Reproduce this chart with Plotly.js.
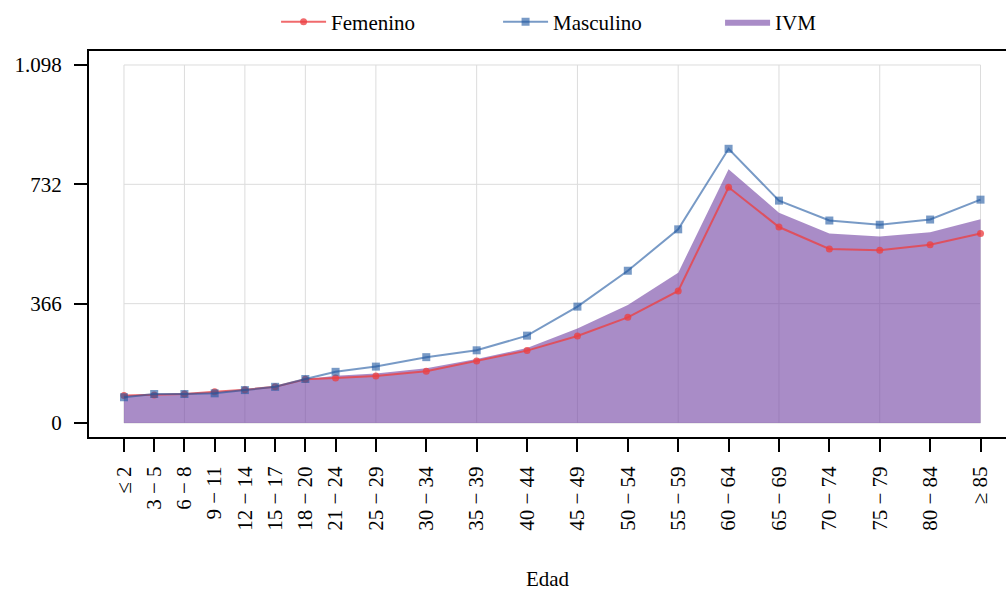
<!DOCTYPE html>
<html>
<head>
<meta charset="utf-8">
<script src="https://cdn.plot.ly/plotly-3.0.1.min.js"></script>
<style>html,body{margin:0;padding:0;background:#fff;}#chart{width:1006px;height:591px;}</style>
</head>
<body>
<div id="chart"></div>
<script>
// Age groups (label) and their lower bound in years (numeric axis position)
const gruposEdad = ["≤ 2","3 − 5","6 − 8","9 − 11","12 − 14","15 − 17","18 − 20","21 − 24","25 − 29","30 − 34","35 − 39","40 − 44","45 − 49","50 − 54","55 − 59","60 − 64","65 − 69","70 − 74","75 − 79","80 − 84","≥ 85"];
const edadInicio = [0,3,6,9,12,15,18,21,25,30,35,40,45,50,55,60,65,70,75,80,85];
const femenino  = [84,86,89,96,102,111,134,138,144,159,190,222,267,324,405,723,601,534,530,547,581];
const masculino = [79,89,89,91,101,111,135,157,173,202,223,268,357,467,594,841,682,621,608,624,685];
const ivm       = [84,87,89,94,101,111,134,145,152,168,196,230,290,362,461,778,645,581,572,585,625];
const yTicks = [0,366,732,1098];
const yTickText = ["0","366","732","1.098"];

const FONT = "Liberation Serif, Times New Roman, serif";

const traceFem = {x: edadInicio, y: femenino, name: "Femenino", type: "scatter", mode: "lines+markers",
   legendrank: 1,
   line: {color: "rgba(236,64,66,0.78)", width: 2},
   marker: {symbol: "circle", size: 7, color: "rgba(236,64,66,0.78)"}};
const traceMas = {x: edadInicio, y: masculino, name: "Masculino", type: "scatter", mode: "lines+markers",
   legendrank: 2,
   line: {color: "rgba(30,86,160,0.6)", width: 2},
   marker: {symbol: "square", size: 8, color: "rgba(30,86,160,0.6)"}};
const traceIvm = {x: edadInicio, y: ivm, name: "IVM", type: "scatter", mode: "lines", fill: "tozeroy",
   legendrank: 3,
   fillcolor: "rgba(120,75,168,0.64)", line: {width: 0, color: "rgba(0,0,0,0)"}};

// grid shapes from the tick arrays
const shapes = [];
edadInicio.forEach((v, i) => {
  if (i % 2 === 0) shapes.push({type: "line", xref: "x", yref: "y", x0: v, x1: v,
    y0: yTicks[0], y1: yTicks[yTicks.length-1], line: {color: "#dcdcdc", width: 1}, layer: "below"});
});
yTicks.forEach(v => {
  shapes.push({type: "line", xref: "x", yref: "y", x0: edadInicio[0], x1: edadInicio[edadInicio.length-1],
    y0: v, y1: v, line: {color: "#dcdcdc", width: 1}, layer: "below"});
});

const layout = {
  width: 1006, height: 591,
  margin: {l: 89, r: 0, t: 51, b: 154, autoexpand: false},
  paper_bgcolor: "#fff", plot_bgcolor: "#fff",
  font: {family: FONT, size: 21, color: "#000"},
  showlegend: true,
  legend: {orientation: "h", x: 0.204, xanchor: "left", y: 1.075, yanchor: "middle",
    bgcolor: "rgba(0,0,0,0)", entrywidth: 162, entrywidthmode: "pixels", itemwidth: 45,
    font: {family: FONT, size: 21}},
  xaxis: {range: [-3.47, 87.53], tickmode: "array", tickvals: edadInicio, ticktext: gruposEdad,
    tickangle: -90, ticks: "outside", ticklen: 13, tickwidth: 2, tickcolor: "#000",
    showline: true, linecolor: "#000", linewidth: 2, mirror: true, showgrid: false, zeroline: false,
    ticklabelstandoff: 6, automargin: false,
    title: {text: "Edad", standoff: 44, font: {family: FONT, size: 21}}},
  yaxis: {range: [-42.9, 1140.9], tickmode: "array", tickvals: yTicks, ticktext: yTickText,
    ticks: "outside", ticklen: 13, tickwidth: 2, tickcolor: "#000", ticklabelstandoff: 8,
    showline: true, linecolor: "#000", linewidth: 2, showgrid: false, zeroline: false, automargin: false},
  shapes: shapes
};

Plotly.newPlot("chart", [traceIvm, traceFem, traceMas], layout, {displayModeBar: false, staticPlot: true});
</script>
</body>
</html>
